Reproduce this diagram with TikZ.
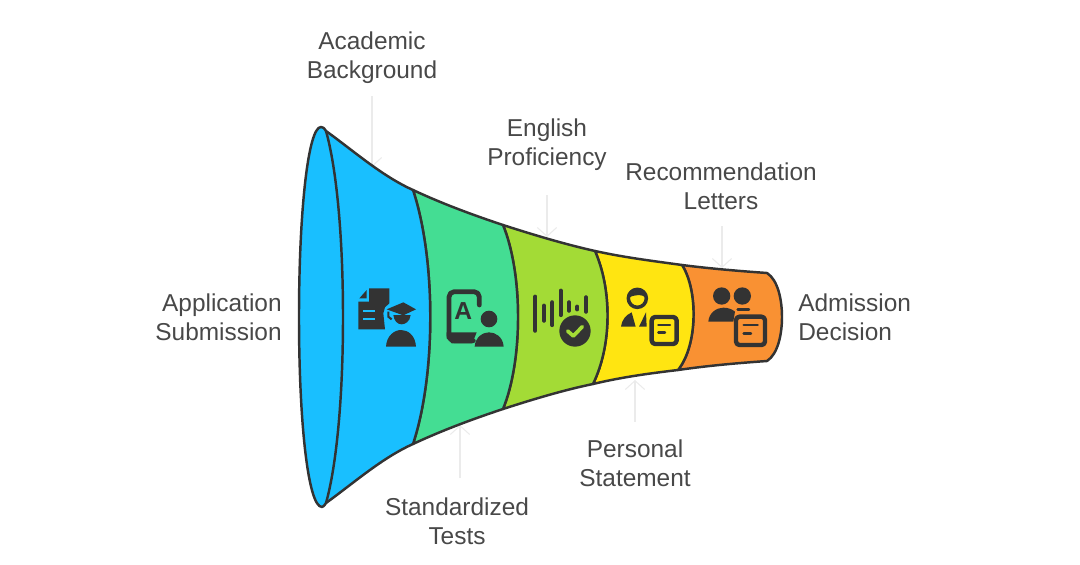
\documentclass[tikz,border=0pt]{standalone}
\usepackage{fontspec}
\setmainfont{Liberation Sans}
\usetikzlibrary{arrows.meta}
\definecolor{myblue}{HTML}{19BFFF}
\definecolor{mygreen}{HTML}{44DD93}
\definecolor{mylime}{HTML}{A3DB36}
\definecolor{myyellow}{HTML}{FFE511}
\definecolor{myorange}{HTML}{F99133}
\definecolor{myink}{HTML}{333333}
\definecolor{mytext}{HTML}{484848}
\definecolor{myleader}{HTML}{EBEBEB}

\begin{document}
\begin{tikzpicture}[
    x=0.02cm, y=-0.02cm,
    % --- styles ---
    label_text/.style={text=mytext, inner sep=0, font=\fontsize{13.9}{16.4}\selectfont},
    leader/.style={draw=myleader, line width=0.6pt, -{Straight Barb[length=5pt,width=11pt]}},
    band/.style={draw=myink, line width=1.4pt, line join=round},
    icon_fill/.style={fill=myink},
    icon_line/.style={draw=myink, line width=2.5pt, line cap=round, line join=round},
    icon_thin/.style={draw=myink, line width=1.4pt, line cap=round},
    icon_bar/.style={draw=myink, line width=2.4pt, line cap=round}
]
\useasboundingbox (0,0) rectangle (1080,565);

% 1. Labels
\node (academic) [label_text, align=center] at (372,57.5) {Academic\\Background};
\node (english) [label_text, align=center] at (547,144.5) {English\\Proficiency};
\node (recommendation) [label_text, align=center] at (721,186.5) {Recommendation\\Letters};
\node (personal) [label_text, align=center] at (635,463.5) {Personal\\Statement};
\node (standardized) [label_text, align=center] at (457,521.5) {Standardized\\Tests};
\node (application) [label_text, align=right, anchor=east] at (282,317.5) {Application\\Submission};
\node (admission) [label_text, align=left, anchor=west] at (798,317.5) {Admission\\Decision};

% 2. Leader tips
\coordinate (academic_tip) at (372,167);
\coordinate (english_tip) at (547,237);
\coordinate (recommendation_tip) at (722,268);
\coordinate (personal_tip) at (635,380);
\coordinate (standardized_tip) at (460,425);

% 3. Leaders
\draw[leader, shorten <=7pt] (academic.south -| academic_tip) -- (academic_tip);
\draw[leader, shorten <=14pt] (english.south) -- (english_tip);
\draw[leader, shorten <=9pt] (recommendation.south -| recommendation_tip) -- (recommendation_tip);
\draw[leader, shorten <=10pt] (personal.north) -- (personal_tip);
\draw[leader, shorten <=11pt] (standardized.north -| standardized_tip) -- (standardized_tip);

% 4. Funnel bands, right to left
\filldraw[band, fill=myorange] (682,265) .. controls (710,268.6) and (739,271) .. (767,273)
  .. controls (778,280) and (782,300) .. (782,317)
  .. controls (782,334) and (778,354) .. (767,361)
  .. controls (739,363) and (710,365.4) .. (678,370)
  .. controls (698,345) and (698,290) .. (682,265) -- cycle;
\filldraw[band, fill=myyellow] (595,251) .. controls (624,257.4) and (653,261) .. (682,265)
  .. controls (698,290) and (698,345) .. (678,370)
  .. controls (653,373) and (624,376.6) .. (593,384)
  .. controls (612,345) and (612,290) .. (595,251) -- cycle;
\filldraw[band, fill=mylime] (503,225) .. controls (534,235) and (564,244) .. (595,251)
  .. controls (612,290) and (612,345) .. (593,384)
  .. controls (564,390) and (534,399) .. (503,409)
  .. controls (523,360) and (523,274) .. (503,225) -- cycle;
\filldraw[band, fill=mygreen] (413,190) .. controls (443,204) and (473,215) .. (503,225)
  .. controls (523,274) and (523,360) .. (503,409)
  .. controls (473,419) and (443,430) .. (413,444)
  .. controls (436,374) and (436,260) .. (413,190) -- cycle;
\filldraw[band, fill=myblue] (326,131) .. controls (355,152) and (382,176) .. (413,190)
  .. controls (436,260) and (436,374) .. (413,444)
  .. controls (382,458) and (355,482) .. (326,503)
  .. controls (324,506) and (323,507) .. (322,507)
  .. controls (308,507) and (299,422) .. (299,317)
  .. controls (299,212) and (308,127) .. (321,127)
  .. controls (323,127) and (324,128) .. (326,131) -- cycle;
\draw[band] (326,131) .. controls (337,170) and (343,240) .. (343,317) .. controls (343,394) and (337,464) .. (326,503);

% 5. Icon: document and graduate
\begin{scope}[shift={(340,270)}, scale=1/3]
\fill[icon_fill] (58,85) -- (80,60) -- (80,85) -- cycle;
\fill[icon_fill] (87,55) -- (148,55) -- (148,100) -- (135,112) -- (130,130) -- (135,178) -- (55,178) -- (55,95) -- (87,95) -- cycle;
\draw[draw=myblue, line width=1.2pt] (70,122) -- (105,122) (70,147) -- (105,147);
\fill[icon_fill] (140,118) -- (190,97) -- (228,118) -- (190,136) -- cycle;
\fill[icon_fill] (160,135) -- (212,135) .. controls (210,155) and (195,163) .. (185,163) .. controls (172,163) and (162,152) .. (160,135) -- cycle;
\draw[draw=myink, line width=1.2pt] (145,125) -- (145,140) -- (155,148);
\fill[icon_fill] (138,230) .. controls (140,195) and (165,180) .. (183,180) .. controls (203,180) and (226,195) .. (228,230) -- cycle;
\end{scope}

% 6. Icon: tablet with letter
\begin{scope}[shift={(340,270)}, scale=1/3]
\draw[icon_line, line width=2.7pt, rounded corners=3pt] (418,105) -- (418,65) -- (327,65) -- (327,212) -- (400,212);
\fill[icon_fill] (320,187) -- (410,187) -- (397,220) -- (335,220) -- (320,205) -- cycle;
\node (letter_a) [text=myink, inner sep=0, font=\fontsize{14}{14}\selectfont\bfseries] at (370,122) {A};
\fill[icon_fill] (447,147) circle (25);
\fill[icon_fill] (404,230) .. controls (406,200) and (430,187) .. (447,187) .. controls (466,187) and (489,200) .. (491,230) -- cycle;
\end{scope}

% 7. Icon: sound bars and check
\begin{scope}[shift={(520,270)}, scale=1/3]
\draw[icon_bar] (46,80) -- (46,182);
\draw[icon_bar] (72,107) -- (72,152);
\draw[icon_bar] (97,97) -- (97,165);
\draw[icon_bar] (122,62) -- (122,135);
\draw[icon_bar] (147,97) -- (147,122);
\draw[icon_bar] (172,110) -- (172,118);
\draw[icon_bar] (198,82) -- (198,125);
\fill[icon_fill] (165,183) circle (47);
\draw[draw=mylime, line width=2.1pt, line cap=round, line join=round] (143,183) -- (160,198) -- (187,170);
\end{scope}

% 8. Icon: person and note
\begin{scope}[shift={(520,270)}, scale=1/3]
\draw[icon_line, line width=2pt] (352,85) circle (27);
\fill[icon_fill] (325,85) .. controls (330,55) and (375,55) .. (380,85) .. controls (370,72) and (340,72) .. (325,85) -- cycle;
\fill[icon_fill] (303,170) .. controls (305,150) and (318,135) .. (335,127) -- (347,170) -- cycle;
\fill[icon_fill] (357,170) -- (378,127) -- (380,170) -- cycle;
\draw[icon_line, rounded corners=2pt] (395,141) rectangle (470,222);
\draw[icon_thin] (415,165) -- (450,165) (415,188) -- (435,188);
\end{scope}

% 9. Icon: two persons and note
\begin{scope}[shift={(695,270)}, scale=1/3]
\fill[icon_fill] (80,78) circle (26);
\fill[icon_fill] (142,78) circle (26);
\fill[icon_fill] (40,155) .. controls (42,128) and (65,113) .. (85,113) .. controls (100,113) and (112,118) .. (120,125) -- (115,155) -- cycle;
\draw[icon_thin] (128,118) -- (162,118);
\draw[icon_line, rounded corners=2pt] (123,140) rectangle (210,225);
\draw[icon_thin] (146,165) -- (188,165) (146,190) -- (168,190);
\end{scope}
\end{tikzpicture}
\end{document}
